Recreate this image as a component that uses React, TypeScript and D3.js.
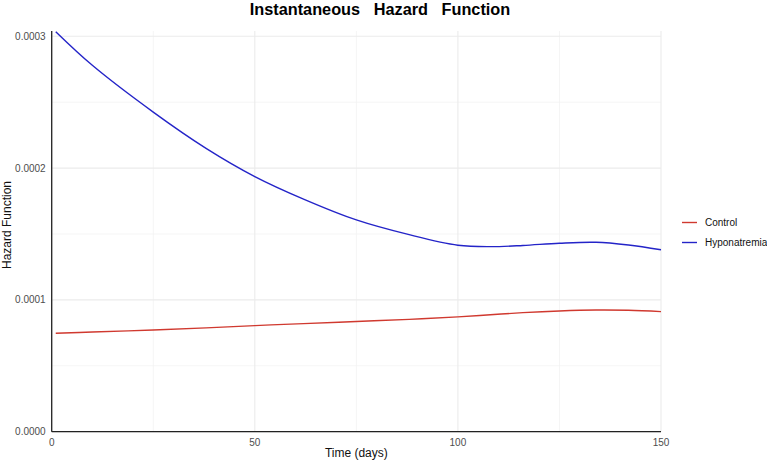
import React, { useEffect, useRef } from "react";
import * as d3 from "d3";

const days = [1, 10, 25, 38, 50, 62, 75, 88, 100, 108, 116, 125, 134, 142, 150];
const hyponatremia = [
  0.0003035, 0.000278, 0.0002425, 0.000215, 0.0001936, 0.0001765, 0.0001607,
  0.0001495, 0.0001415, 0.0001404, 0.0001413, 0.000143, 0.0001437, 0.0001416, 0.000138,
];
const control = [
  0.0000747, 0.0000756, 0.0000772, 0.0000788, 0.0000805, 0.000082, 0.0000836,
  0.0000852, 0.0000871, 0.0000887, 0.0000903, 0.0000916, 0.0000923, 0.0000921, 0.0000911,
];
const xTicks = [0, 50, 100, 150];
const xMinor = [25, 75, 125];
const yTicks = [0, 0.0001, 0.0002, 0.0003];
const yMinor = [0.00005, 0.00015, 0.00025];
const seriesNames = ["Control", "Hyponatremia"];
const seriesColors = ["#d0392f", "#2424c8"];

const W = 767;
const H = 462;
const FONT = "'Liberation Sans', Arial, Helvetica, sans-serif";

export default function App() {
  const ref = useRef<SVGSVGElement | null>(null);

  useEffect(() => {
    const svg = d3.select(ref.current);
    svg.selectAll("*").remove();

    const left = 51.7, right = 661, top = 31, bottom = 431.7;
    const x = d3.scaleLinear().domain([0, 150]).range([left, right]);
    const y = d3.scaleLinear().domain([0, 0.000304]).range([bottom, top]);

    const g = svg.append("g");

    // minor grid
    g.selectAll(".ym").data(yMinor).enter().append("line")
      .attr("x1", left).attr("x2", right)
      .attr("y1", (d) => y(d)).attr("y2", (d) => y(d))
      .attr("stroke", "#f3f3f3").attr("stroke-width", 0.8);
    g.selectAll(".xm").data(xMinor).enter().append("line")
      .attr("y1", top).attr("y2", bottom)
      .attr("x1", (d) => x(d)).attr("x2", (d) => x(d))
      .attr("stroke", "#f3f3f3").attr("stroke-width", 0.8);
    // major grid
    g.selectAll(".yM").data(yTicks).enter().append("line")
      .attr("x1", left).attr("x2", right)
      .attr("y1", (d) => y(d)).attr("y2", (d) => y(d))
      .attr("stroke", "#ebebeb").attr("stroke-width", 1.1);
    g.selectAll(".xM").data(xTicks).enter().append("line")
      .attr("y1", top).attr("y2", bottom)
      .attr("x1", (d) => x(d)).attr("x2", (d) => x(d))
      .attr("stroke", "#ebebeb").attr("stroke-width", 1.1);

    // lines
    const series = [control, hyponatremia];
    series.forEach((vals, i) => {
      const line = d3.line<number>()
        .x((_, j) => x(days[j]))
        .y((d) => y(d))
        .curve(d3.curveCatmullRom.alpha(0.5));
      g.append("path")
        .attr("d", line(vals) as string)
        .attr("fill", "none")
        .attr("stroke", seriesColors[i])
        .attr("stroke-width", 1.4);
    });

    // axes lines
    g.append("line").attr("x1", left).attr("x2", left).attr("y1", top).attr("y2", bottom)
      .attr("stroke", "#222").attr("stroke-width", 1.3);
    g.append("line").attr("x1", left).attr("x2", right).attr("y1", bottom).attr("y2", bottom)
      .attr("stroke", "#222").attr("stroke-width", 1.3);

    // tick labels
    g.selectAll(".yl").data(yTicks).enter().append("text")
      .attr("x", left - 6).attr("y", (d) => y(d)).attr("dy", "0.35em")
      .attr("text-anchor", "end").attr("font-size", 10).attr("fill", "#4d4d4d")
      .attr("font-family", FONT)
      .text((d) => d.toFixed(4));
    g.selectAll(".xl").data(xTicks).enter().append("text")
      .attr("x", (d) => x(d)).attr("y", bottom + 14)
      .attr("text-anchor", "middle").attr("font-size", 10).attr("fill", "#4d4d4d")
      .attr("font-family", FONT)
      .text((d) => String(d));

    // axis titles
    g.append("text").attr("x", (left + right) / 2).attr("y", 457)
      .attr("text-anchor", "middle").attr("font-size", 12).attr("fill", "#111")
      .attr("font-family", FONT).text("Time (days)");
    g.append("text")
      .attr("transform", `translate(11,225) rotate(-90)`)
      .attr("text-anchor", "middle").attr("font-size", 12).attr("fill", "#111")
      .attr("font-family", FONT).text("Hazard Function");

    // title
    g.append("text").attr("x", 380).attr("y", 15)
      .attr("text-anchor", "middle").attr("font-size", 16.3).attr("font-weight", "bold")
      .attr("fill", "#000").attr("font-family", FONT)
      .style("white-space", "pre")
      .text("Instantaneous   Hazard   Function");

    // legend
    seriesNames.forEach((name, i) => {
      const ly = 222.5 + i * 20;
      g.append("line").attr("x1", 682).attr("x2", 697).attr("y1", ly).attr("y2", ly)
        .attr("stroke", seriesColors[i]).attr("stroke-width", 1.4);
      g.append("text").attr("x", 705).attr("y", ly).attr("dy", "0.35em")
        .attr("font-size", 10).attr("fill", "#111").attr("font-family", FONT)
        .text(name);
    });
  }, []);

  return (
    <svg
      ref={ref}
      width={W}
      height={H}
      style={{ position: "absolute", left: 0, top: 0, background: "#fff" }}
    />
  );
}
